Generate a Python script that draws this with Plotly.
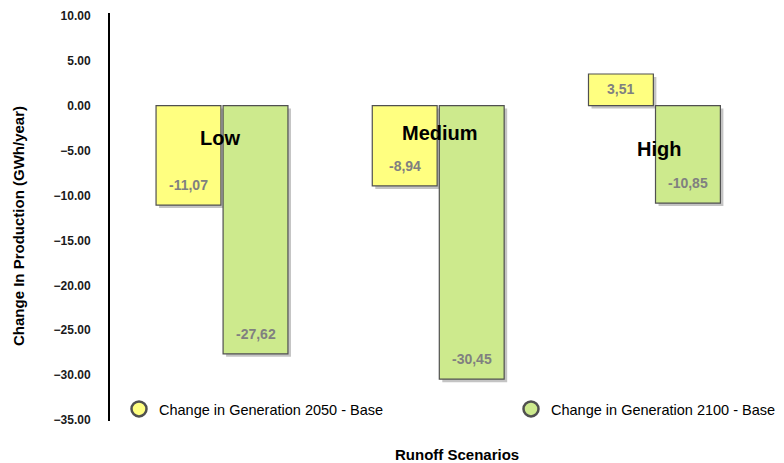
import plotly.graph_objects as go

categories = ["Low", "Medium", "High"]
gen_2050 = [-11.07, -8.94, 3.51]
gen_2100 = [-27.62, -30.45, -10.85]
series_names = ["Change in Generation 2050 - Base", "Change in Generation 2100 - Base"]
y_ticks = [10, 5, 0, -5, -10, -15, -20, -25, -30, -35]

YELLOW = "#FFFF80"
GREEN = "#CDEA8D"
EDGE = "#505050"
SHADOW = "#C4C4C4"
FONT = "Liberation Sans, Arial"

idx = list(range(len(categories)))
W = 0.30
OFF_Y = -0.305
OFF_G = 0.005
SDX = 0.014
SDY = 0.334

# plot area in pixels: x 110..774, y 13..421
def px_x(p):
    return (p - 110) / 664

def px_y(p):
    return (421 - p) / 408

fig = go.Figure()

# drop shadows
for vals, off in [(gen_2050, OFF_Y), (gen_2100, OFF_G)]:
    fig.add_trace(go.Bar(x=idx, y=vals, base=[-SDY] * len(vals), offset=off + SDX, width=W,
                         marker=dict(color=SHADOW, line=dict(width=0)),
                         showlegend=False, hoverinfo="skip"))

for vals, off, col in [(gen_2050, OFF_Y, YELLOW), (gen_2100, OFF_G, GREEN)]:
    fig.add_trace(go.Bar(x=idx, y=vals, offset=off, width=W,
                         marker=dict(color=col, line=dict(color=EDGE, width=1.2)),
                         showlegend=False))

# legend entries with circle symbols, one per legend box
for name, col, lg in zip(series_names, [YELLOW, GREEN], ["legend", "legend2"]):
    fig.add_trace(go.Scatter(x=[None], y=[None], mode="markers", name=name, legend=lg,
                             marker=dict(symbol="circle", size=15, color=col,
                                         line=dict(color=EDGE, width=2.5))))

annotations = []
# value labels
for vals, off in [(gen_2050, OFF_Y), (gen_2100, OFF_G)]:
    for i, v in zip(idx, vals):
        annotations.append(dict(
            x=i + off + W / 2, y=v, xref="x", yref="y",
            text=f"{v:.2f}".replace(".", ","), showarrow=False,
            yanchor="middle", yshift=20 if v < 0 else -15,
            font=dict(family=FONT, size=14, color="#808080", weight="bold")))

# category labels inside plot
cat_pos = [(-0.01, -3.6), (1.01, -3.05), (2.02, -4.83)]
for name, (cx, cy) in zip(categories, cat_pos):
    annotations.append(dict(x=cx, y=cy, xref="x", yref="y", text=name, showarrow=False,
                            font=dict(family=FONT, size=20, color="black", weight="bold")))

# axis titles
annotations.append(dict(x=px_x(457), y=px_y(455), xref="paper", yref="paper",
                        text="Runoff Scenarios", showarrow=False, yanchor="middle", xanchor="center",
                        font=dict(family=FONT, size=15, color="black", weight="bold")))
annotations.append(dict(x=px_x(19), y=px_y(226), xref="paper", yref="paper",
                        text="Change In Production (GWh/year)", showarrow=False, textangle=-90,
                        yanchor="middle", xanchor="center",
                        font=dict(family=FONT, size=15, color="black", weight="bold")))

legend_common = dict(orientation="h", xanchor="left", yanchor="middle", y=px_y(409),
                     bgcolor="rgba(0,0,0,0)", borderwidth=0,
                     font=dict(family=FONT, size=14.5, color="black"))

fig.update_layout(
    width=784, height=463,
    margin=dict(l=110, r=10, t=13, b=42, autoexpand=False),
    plot_bgcolor="white", paper_bgcolor="white",
    barmode="overlay",
    font=dict(family=FONT, color="black"),
    showlegend=True,
    legend=dict(x=px_x(119), **legend_common),
    legend2=dict(x=px_x(511), **legend_common),
    xaxis=dict(range=[-0.518, 2.553], showticklabels=False, showgrid=False,
               zeroline=False, showline=False, ticks=""),
    yaxis=dict(range=[-35.1, 10.3], tickvals=y_ticks, tickformat=".2f",
               showgrid=False, zeroline=False, showline=True, linecolor="black", linewidth=2,
               ticks="outside", ticklen=15, tickcolor="rgba(0,0,0,0)",
               tickfont=dict(family=FONT, size=12, color="#1a1a1a", weight="bold")),
    annotations=annotations,
)

fig.write_html("out.html")
